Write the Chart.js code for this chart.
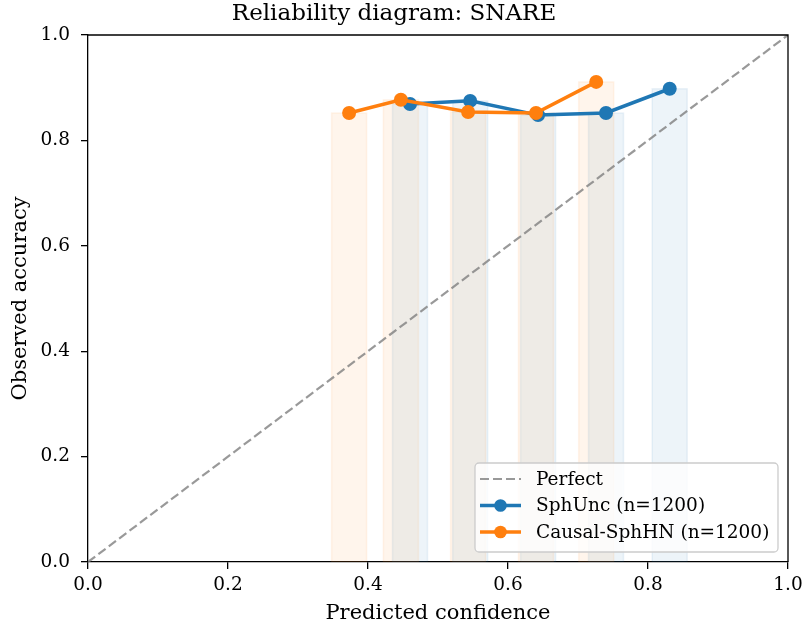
<!DOCTYPE html>
<html lang="en">
<head>
<meta charset="UTF-8">
<title>Reliability diagram: SNARE</title>
<script src="https://cdn.jsdelivr.net/npm/chart.js"></script>
<style>
body { margin:0; padding:0; background:#fff; }
#wrap { width:803px; height:629px; }
</style>
</head>
<body>
<div id="wrap"><canvas id="chart" width="803" height="629"></canvas></div>
<script>
// data
const perfectX = [0, 1];
const perfectY = [0, 1];
const sphConf = [0.460, 0.546, 0.643, 0.740, 0.831];
const sphAcc  = [0.869, 0.875, 0.848, 0.852, 0.898];
const causalConf = [0.373, 0.447, 0.543, 0.640, 0.726];
const causalAcc  = [0.852, 0.877, 0.854, 0.852, 0.911];
const tickVals = [0, 0.2, 0.4, 0.6, 0.8, 1.0];

const BLUE = '#1f77b4', ORANGE = '#ff7f0e';
const FONT = "'DejaVu Serif', serif";
const pts = (xs, ys) => xs.map((x, i) => ({x: x, y: ys[i]}));

// translucent bars behind the curves
const barsPlugin = {
  id: 'bars',
  beforeDatasetsDraw(chart) {
    const {ctx, scales:{x, y}} = chart;
    const groups = [
      {xs: sphConf, ys: sphAcc, rgb: '31,119,180'},
      {xs: causalConf, ys: causalAcc, rgb: '255,127,14'}
    ];
    ctx.save();
    ctx.beginPath();
    ctx.rect(chart.chartArea.left, chart.chartArea.top, chart.chartArea.width, chart.chartArea.height);
    ctx.clip();
    groups.forEach(g => {
      g.xs.forEach((c, i) => {
        const l = x.getPixelForValue(c - 0.025), r = x.getPixelForValue(c + 0.025);
        const t = y.getPixelForValue(g.ys[i]), b = y.getPixelForValue(0);
        ctx.fillStyle = 'rgba(' + g.rgb + ',0.08)';
        ctx.fillRect(l, t, r - l, b - t);
        ctx.strokeStyle = 'rgba(' + g.rgb + ',0.08)';
        ctx.lineWidth = 1.5;
        ctx.strokeRect(l, t, r - l, b - t);
      });
    });
    ctx.restore();
  }
};

// top/right frame + legend box
const framePlugin = {
  id: 'frame',
  afterDraw(chart) {
    const {ctx, chartArea:a} = chart;
    ctx.save();
    ctx.strokeStyle = '#000';
    ctx.lineWidth = 1.3;
    ctx.beginPath();
    ctx.moveTo(a.left, a.top); ctx.lineTo(a.right, a.top); ctx.lineTo(a.right, a.bottom);
    ctx.stroke();

    // legend
    const bx = a.right - 313, by = a.bottom - 99, bw = 303, bh = 89;
    ctx.fillStyle = 'rgba(255,255,255,0.8)';
    ctx.strokeStyle = '#cccccc';
    ctx.lineWidth = 1.3;
    ctx.beginPath();
    ctx.roundRect(bx, by, bw, bh, 4);
    ctx.fill(); ctx.stroke();
    ctx.font = '18.5px ' + FONT;
    ctx.textBaseline = 'middle';
    chart.data.datasets.forEach((ds, i) => {
      const yy = by + 16 + i * 26.5;
      ctx.strokeStyle = ds.borderColor;
      ctx.lineWidth = ds.borderWidth;
      ctx.setLineDash(ds.borderDash || []);
      ctx.beginPath(); ctx.moveTo(bx + 5, yy); ctx.lineTo(bx + 46, yy); ctx.stroke();
      ctx.setLineDash([]);
      if (ds.pointRadius > 0) {
        ctx.fillStyle = ds.borderColor;
        ctx.beginPath(); ctx.arc(bx + 25.5, yy, 6.3, 0, Math.PI * 2); ctx.fill();
      }
      ctx.fillStyle = '#000';
      ctx.fillText(ds.label, bx + 61, yy + 1);
    });
    ctx.restore();
  }
};

new Chart(document.getElementById('chart'), {
  type: 'line',
  data: {
    datasets: [
      {label: 'Perfect', data: pts(perfectX, perfectY), borderColor: 'rgba(128,128,128,0.8)',
       borderWidth: 2.2, borderDash: [9, 4], pointRadius: 0, order: 3},
      {label: 'SphUnc (n=1200)', data: pts(sphConf, sphAcc), borderColor: BLUE, backgroundColor: BLUE,
       borderWidth: 3.5, pointRadius: 7, pointBorderWidth: 0, order: 2},
      {label: 'Causal-SphHN (n=1200)', data: pts(causalConf, causalAcc), borderColor: ORANGE, backgroundColor: ORANGE,
       borderWidth: 3.5, pointRadius: 7, pointBorderWidth: 0, order: 1}
    ]
  },
  options: {
    responsive: false,
    animation: false,
    layout: { padding: { left: 0, right: 15, top: 0, bottom: 0 } },
    plugins: {
      legend: { display: false },
      tooltip: { enabled: false },
      title: { display: true, text: 'Reliability diagram: SNARE', color: '#000',
               font: { family: FONT, size: 23, weight: 'normal', lineHeight: 1.0 }, padding: { top: 3, bottom: 9 } }
    },
    scales: {
      x: {
        type: 'linear', min: 0, max: 1,
        afterFit: s => { s.height = 67; s.paddingLeft = 0; s.paddingRight = 0; },
        afterBuildTicks: s => { s.ticks = tickVals.map(v => ({value: v})); },
        ticks: { color: '#000', font: { family: FONT, size: 18.5 }, padding: 5, maxRotation: 0,
                 callback: v => v.toFixed(1) },
        grid: { drawOnChartArea: false, drawTicks: true, tickLength: 7, color: '#000', lineWidth: 1.3 },
        border: { color: '#000', width: 1.3 },
        title: { display: true, text: 'Predicted confidence', color: '#000',
                 font: { family: FONT, size: 21 }, padding: { top: 0, bottom: 3 } }
      },
      y: {
        type: 'linear', min: 0, max: 1,
        afterFit: s => { s.width = 88; s.paddingTop = 0; s.paddingBottom = 0; },
        afterBuildTicks: s => { s.ticks = tickVals.map(v => ({value: v})); },
        ticks: { color: '#000', font: { family: FONT, size: 18.5 }, padding: 11,
                 callback: v => v.toFixed(1) },
        grid: { drawOnChartArea: false, drawTicks: true, tickLength: 7, color: '#000', lineWidth: 1.3 },
        border: { color: '#000', width: 1.3 },
        title: { display: true, text: 'Observed accuracy', color: '#000',
                 font: { family: FONT, size: 21 }, padding: { top: 8, bottom: 0 } }
      }
    }
  },
  plugins: [barsPlugin, framePlugin]
});
</script>
</body>
</html>
